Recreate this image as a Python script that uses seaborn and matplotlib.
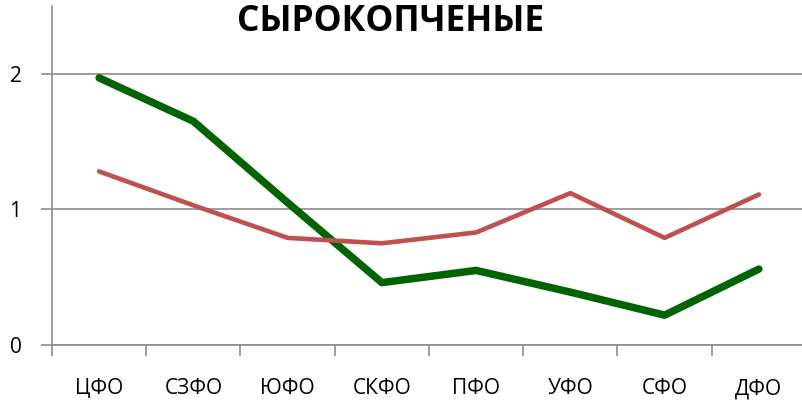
import matplotlib.pyplot as plt
import seaborn as sns
import pandas as pd
import numpy as np

regions = ['ЦФО', 'СЗФО', 'ЮФО', 'СКФО', 'ПФО', 'УФО', 'СФО', 'ДФО']
green_vals = [1.97, 1.65, 1.05, 0.46, 0.55, 0.39, 0.22, 0.56]
red_vals = [1.28, 1.03, 0.79, 0.75, 0.83, 1.12, 0.79, 1.11]

df = pd.DataFrame({
    'region': regions * 2,
    'value': green_vals + red_vals,
    'series': ['A'] * len(regions) + ['B'] * len(regions),
})

sns.set_style('white')
plt.rcParams['font.family'] = ['Open Sans', 'DejaVu Sans']

fig = plt.figure(figsize=(8.02, 4.04), dpi=100)
ax = fig.add_axes([52 / 802, 1 - 345 / 404, 754 / 802, 339 / 404])

# draw each series with its own width
sns.lineplot(data=df[df.series == 'A'], x='region', y='value', color='#006400',
             linewidth=5.4, ax=ax, solid_capstyle='round', sort=False)
sns.lineplot(data=df[df.series == 'B'], x='region', y='value', color='#C0504D',
             linewidth=3.3, ax=ax, solid_capstyle='round', sort=False)

ax.set_xlim(-0.5, len(regions) - 0.5)
ax.set_ylim(0, 2.5)
ax.set_yticks([0, 1, 2])
ax.set_yticklabels(['0', '1', '2'], fontsize=15, color='black')
ax.yaxis.grid(True, color='#8c8c8c', linewidth=1.2)
ax.set_axisbelow(True)

ax.set_xticks(range(len(regions)))
ax.set_xticklabels(regions, fontsize=15, color='black')
ax.set_xticks(np.arange(-0.5, len(regions), 1.0), minor=True)
ax.tick_params(axis='x', which='major', length=0, pad=24)
ax.tick_params(axis='x', which='minor', length=8, width=1.2, color='#8c8c8c',
               direction='out', bottom=True)
ax.tick_params(axis='y', length=8, width=1.2, color='#8c8c8c', direction='out',
               left=True, pad=14)

for s in ['top', 'right']:
    ax.spines[s].set_visible(False)
for s in ['left', 'bottom']:
    ax.spines[s].set_color('#8c8c8c')
    ax.spines[s].set_linewidth(1.2)

ax.set_xlabel('')
ax.set_ylabel('')

fig.text(391 / 802, 1 - 22 / 404, 'СЫРОКОПЧЕНЫЕ', ha='center', va='center',
         fontsize=25.5, fontweight='bold', color='black')

fig.savefig('out.png', dpi=100)
